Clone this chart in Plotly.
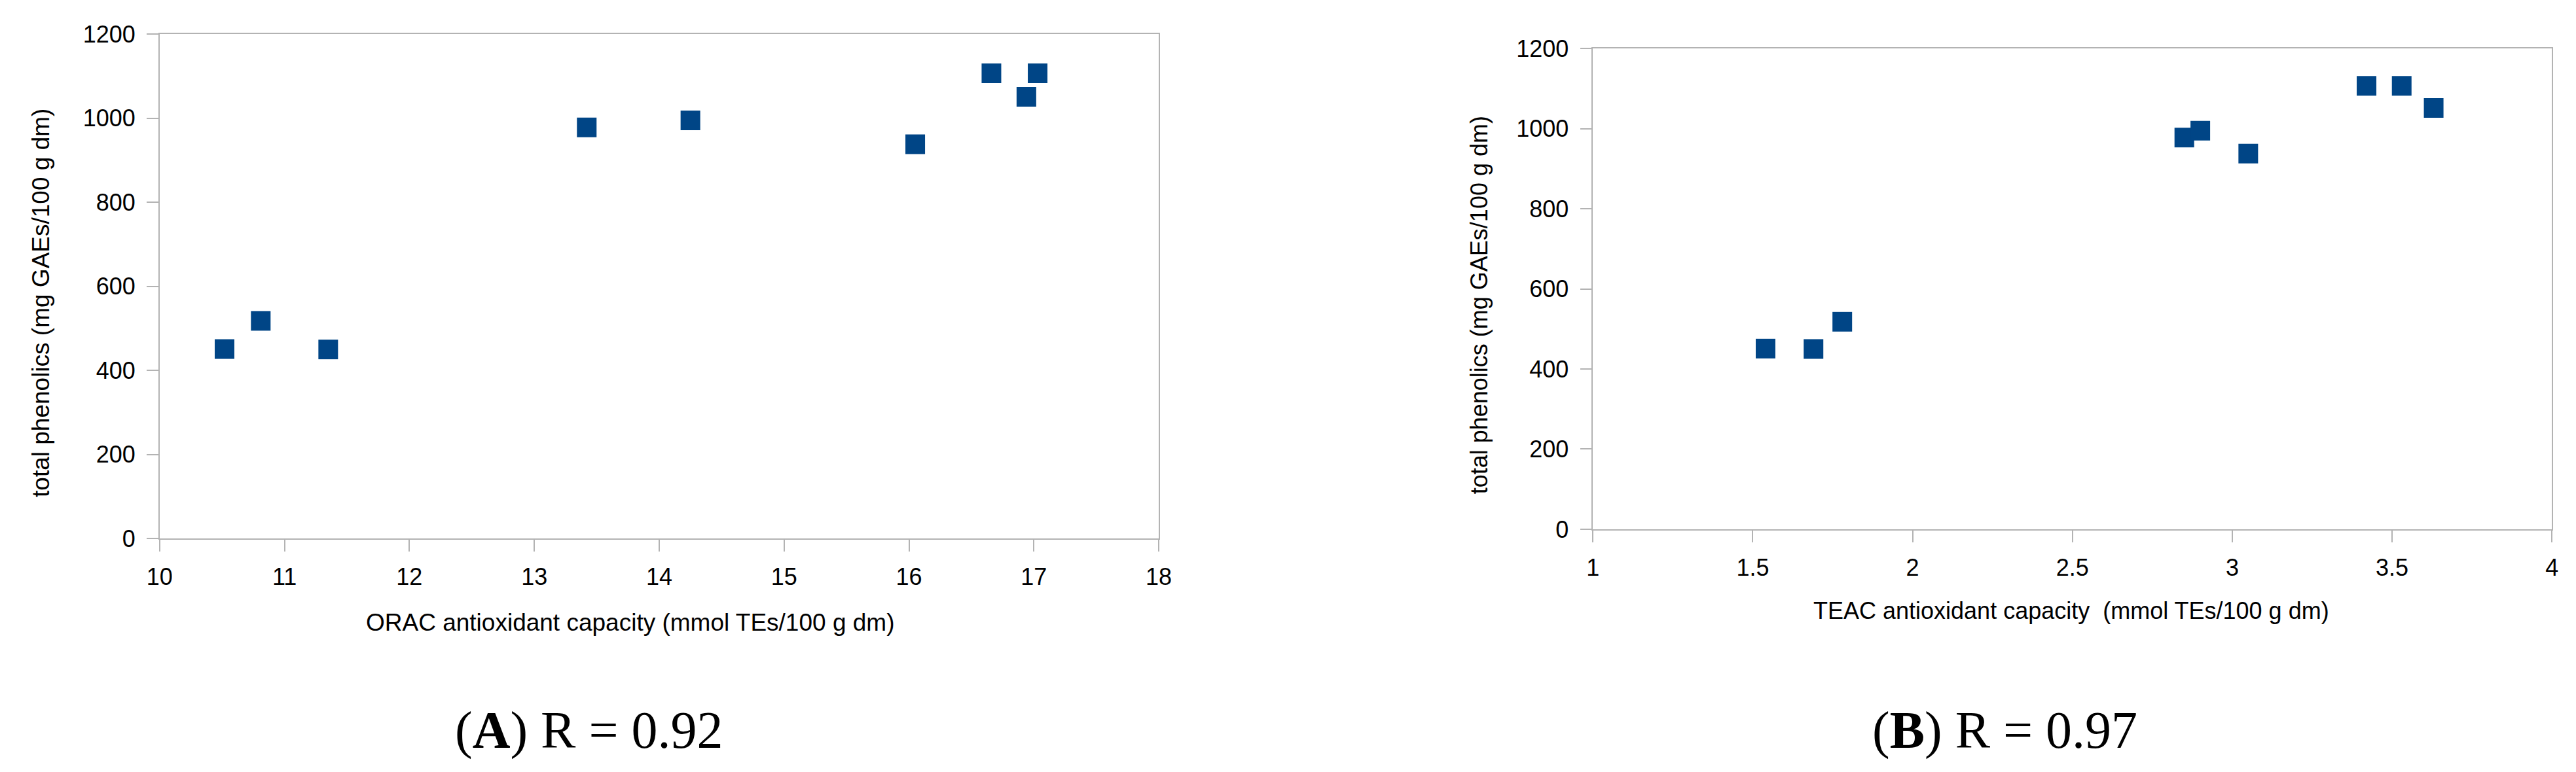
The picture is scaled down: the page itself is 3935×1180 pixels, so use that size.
import plotly.graph_objects as go

W, H = 3935, 1180

# ---- data ----
total_phenolics_A = [451, 518, 450, 978, 995, 938, 1107, 1051, 1107]
orac_capacity = [10.52, 10.81, 11.35, 13.42, 14.25, 16.05, 16.66, 16.94, 17.03]

total_phenolics_B = [451, 450, 518, 978, 995, 938, 1107, 1107, 1052]
teac_capacity = [1.54, 1.69, 1.78, 2.85, 2.90, 3.05, 3.42, 3.53, 3.63]

x_ticks_A = [10, 11, 12, 13, 14, 15, 16, 17, 18]
x_ticks_B = [1, 1.5, 2, 2.5, 3, 3.5, 4]
y_ticks = [0, 200, 400, 600, 800, 1000, 1200]

x_title_A = "ORAC antioxidant capacity (mmol TEs/100 g dm)"
x_title_B = "TEAC antioxidant capacity \u00a0(mmol TEs/100 g dm)"
y_title = "total phenolics (mg GAEs/100 g dm)"
caption_A = "(<b>A</b>) R = 0.92"
caption_B = "(<b>B</b>) R = 0.97"

# ---- style ----
MARKER = "#004586"
AXIS = "#b3b3b3"
SANS = "Liberation Sans, Arial, sans-serif"
SERIF = "Liberation Serif, Times New Roman, serif"


def px(x):
    return x / W


def py(y):
    return 1 - y / H


fig = go.Figure()
fig.add_trace(go.Scatter(x=orac_capacity, y=total_phenolics_A, mode="markers",
                         marker=dict(symbol="square", size=30, color=MARKER),
                         xaxis="x", yaxis="y", showlegend=False))
fig.add_trace(go.Scatter(x=teac_capacity, y=total_phenolics_B, mode="markers",
                         marker=dict(symbol="square", size=30, color=MARKER),
                         xaxis="x2", yaxis="y2", showlegend=False))

axis_common = dict(showgrid=False, zeroline=False, showline=True, linecolor=AXIS,
                   linewidth=1.5, mirror=True, ticks="outside", ticklen=18,
                   tickcolor=AXIS, tickwidth=1.5,
                   tickfont=dict(family=SANS, size=36, color="black"))

fig.update_layout(
    width=W, height=H,
    margin=dict(l=0, r=0, t=0, b=0),
    paper_bgcolor="white", plot_bgcolor="white",
    xaxis=dict(domain=[px(218), px(1760)], range=[10, 18], tickvals=x_ticks_A,
               anchor="y", ticklabelstandoff=8, **axis_common),
    yaxis=dict(domain=[py(824), py(25)], range=[0, 1200], tickvals=y_ticks,
               anchor="x", ticklabelstandoff=10, **axis_common),
    xaxis2=dict(domain=[px(2430), px(3910)], range=[1, 4], tickvals=x_ticks_B,
                anchor="y2", ticklabelstandoff=8, **axis_common),
    yaxis2=dict(domain=[py(809), py(48)], range=[0, 1200], tickvals=y_ticks,
                anchor="x2", ticklabelstandoff=10, **axis_common),
)

ann = [
    dict(text=y_title, x=px(35), y=py(451), textangle=-90,
         font=dict(family=SANS, size=37, color="black")),
    dict(text=y_title, x=px(2254), y=py(454), textangle=-90,
         font=dict(family=SANS, size=36, color="black")),
    dict(text=x_title_A, x=px(944), y=py(957),
         font=dict(family=SANS, size=37, color="black")),
    dict(text=x_title_B, x=px(3168), y=py(938),
         font=dict(family=SANS, size=36, color="black")),
    dict(text=caption_A, x=px(881), y=py(1128),
         font=dict(family=SERIF, size=80, color="black")),
    dict(text=caption_B, x=px(3066), y=py(1128),
         font=dict(family=SERIF, size=80, color="black")),
]
for a in ann:
    a.update(xref="paper", yref="paper", showarrow=False,
             xanchor="center", yanchor="middle")
fig.update_layout(annotations=ann)

fig.write_html("out.html")
